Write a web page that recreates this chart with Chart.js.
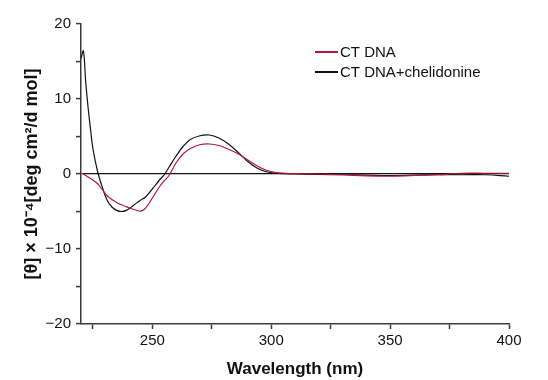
<!DOCTYPE html>
<html>
<head>
<meta charset="utf-8">
<script src="https://cdn.jsdelivr.net/npm/chart.js@4/dist/chart.umd.min.js"></script>
<style>
  html, body { margin: 0; padding: 0; background: #fff; }
  #wrap { width: 548px; height: 380px; }
</style>
</head>
<body>
<div id="wrap"><canvas id="cdChart" width="548" height="380"></canvas></div>
<script>
// wavelength (nm)
const wavelengths = [220, 221, 222, 223, 224, 225, 227, 229, 231, 233, 235, 237, 239, 241, 243, 245, 247, 249, 251, 253, 255, 257, 260, 263, 266, 270, 274, 278, 282, 286, 290, 294, 298, 302, 306, 310, 320, 330, 340, 350, 360, 370, 380, 390, 400];

// [θ] x 10^-4
const ctDna = [0.1, 0.0, -0.2, -0.4, -0.6, -0.8, -1.3, -2.1, -2.9, -3.4, -3.8, -4.1, -4.35, -4.6, -4.8, -4.95, -4.6, -3.7, -2.7, -1.7, -0.9, -0.2, 1.5, 2.7, 3.4, 3.9, 4.0, 3.8, 3.3, 2.7, 1.9, 1.1, 0.5, 0.2, 0.1, 0.05, 0.0, -0.1, -0.25, -0.3, -0.2, -0.1, 0.1, 0.1, 0.1];
const ctDnaChel = [15.4, 16.4, 12.2, 8.8, 6.0, 3.4, 0.3, -1.8, -3.5, -4.4, -4.85, -5.0, -4.85, -4.45, -3.95, -3.5, -3.1, -2.4, -1.6, -0.8, -0.1, 0.9, 2.4, 3.7, 4.6, 5.1, 5.2, 4.8, 4.0, 2.9, 1.7, 0.8, 0.3, 0.1, 0.05, 0.0, -0.05, -0.1, -0.15, -0.2, -0.15, -0.1, -0.1, -0.1, -0.3];

const seriesNames = ["CT DNA", "CT DNA+chelidonine"];
const seriesColors = ["#b3173f", "#111111"];

const xTicksLabelled = [250, 300, 350, 400];
const yTicksLabelled = [-20, -10, 0, 10, 20];

const axisColor = "#3a3a3a";
const fontFamily = "'Liberation Sans', Arial, sans-serif";

function toPoints(ys) {
  return wavelengths.map((w, i) => ({ x: w, y: ys[i] }));
}

// legend drawn inside the plot, top right
const legendPlugin = {
  id: "cdLegend",
  afterDraw(chart) {
    const c = chart.ctx;
    c.save();
    c.font = "15px " + fontFamily;
    c.textBaseline = "middle";
    chart.data.datasets.forEach((ds, i) => {
      const y = 52 + i * 20;
      c.strokeStyle = ds.borderColor;
      c.lineWidth = 2;
      c.beginPath();
      c.moveTo(315, y);
      c.lineTo(338, y);
      c.stroke();
      c.fillStyle = "#111";
      c.fillText(ds.label, 340, y + 1);
    });
    c.restore();
  }
};

const ctx = document.getElementById("cdChart").getContext("2d");
new Chart(ctx, {
  type: "line",
  data: {
    datasets: [
      {
        label: seriesNames[0],
        data: toPoints(ctDna),
        borderColor: seriesColors[0],
        borderWidth: 1.2,
        pointRadius: 0,
        tension: 0.4,
        fill: false
      },
      {
        label: seriesNames[1],
        data: toPoints(ctDnaChel),
        borderColor: seriesColors[1],
        borderWidth: 1.2,
        pointRadius: 0,
        tension: 0.4,
        fill: false
      }
    ]
  },
  options: {
    responsive: false,
    animation: false,
    layout: { padding: { left: 0, top: 24, right: 39, bottom: 0 } },
    plugins: {
      legend: { display: false },
      tooltip: { enabled: false }
    },
    scales: {
      x: {
        type: "linear",
        min: 220,
        max: 400,
        afterFit(scale) { scale.height = 56; },
        border: { display: true, color: axisColor, width: 1.5 },
        grid: { drawOnChartArea: false, drawTicks: true, tickLength: 5, tickColor: axisColor, tickWidth: 1.5 },
        ticks: {
          stepSize: 25,
          includeBounds: false,
          maxRotation: 0,
          autoSkip: false,
          padding: 3,
          color: "#111",
          font: { family: fontFamily, size: 15 },
          callback: (v) => xTicksLabelled.includes(v) ? String(v) : ""
        },
        title: {
          display: true,
          text: "Wavelength (nm)",
          color: "#111",
          font: { family: fontFamily, size: 17, weight: "bold" },
          padding: { top: 17, bottom: 0 }
        }
      },
      y: {
        min: -20,
        max: 20,
        afterFit(scale) { scale.width = 81; },
        border: { display: true, color: axisColor, width: 1.5 },
        grid: {
          drawOnChartArea: true,
          drawTicks: true,
          tickLength: 5,
          tickWidth: 1.5,
          tickColor: axisColor,
          color: (c) => (c.tick && c.tick.value === 0) ? "#111" : "rgba(0,0,0,0)",
          lineWidth: 1.2
        },
        ticks: {
          stepSize: 5,
          autoSkip: false,
          padding: 5,
          color: "#111",
          font: { family: fontFamily, size: 15 },
          callback: (v) => yTicksLabelled.includes(v) ? (v < 0 ? "\u2212" + Math.abs(v) : String(v)) : ""
        },
        title: {
          display: true,
          text: "[\u03b8] \u00d7 10\u207b\u2074[deg cm\u00b2/d mol]",
          color: "#111",
          font: { family: fontFamily, size: 18, weight: "bold" },
          padding: { top: 21, bottom: 0 }
        }
      }
    }
  },
  plugins: [legendPlugin]
});
</script>
</body>
</html>
